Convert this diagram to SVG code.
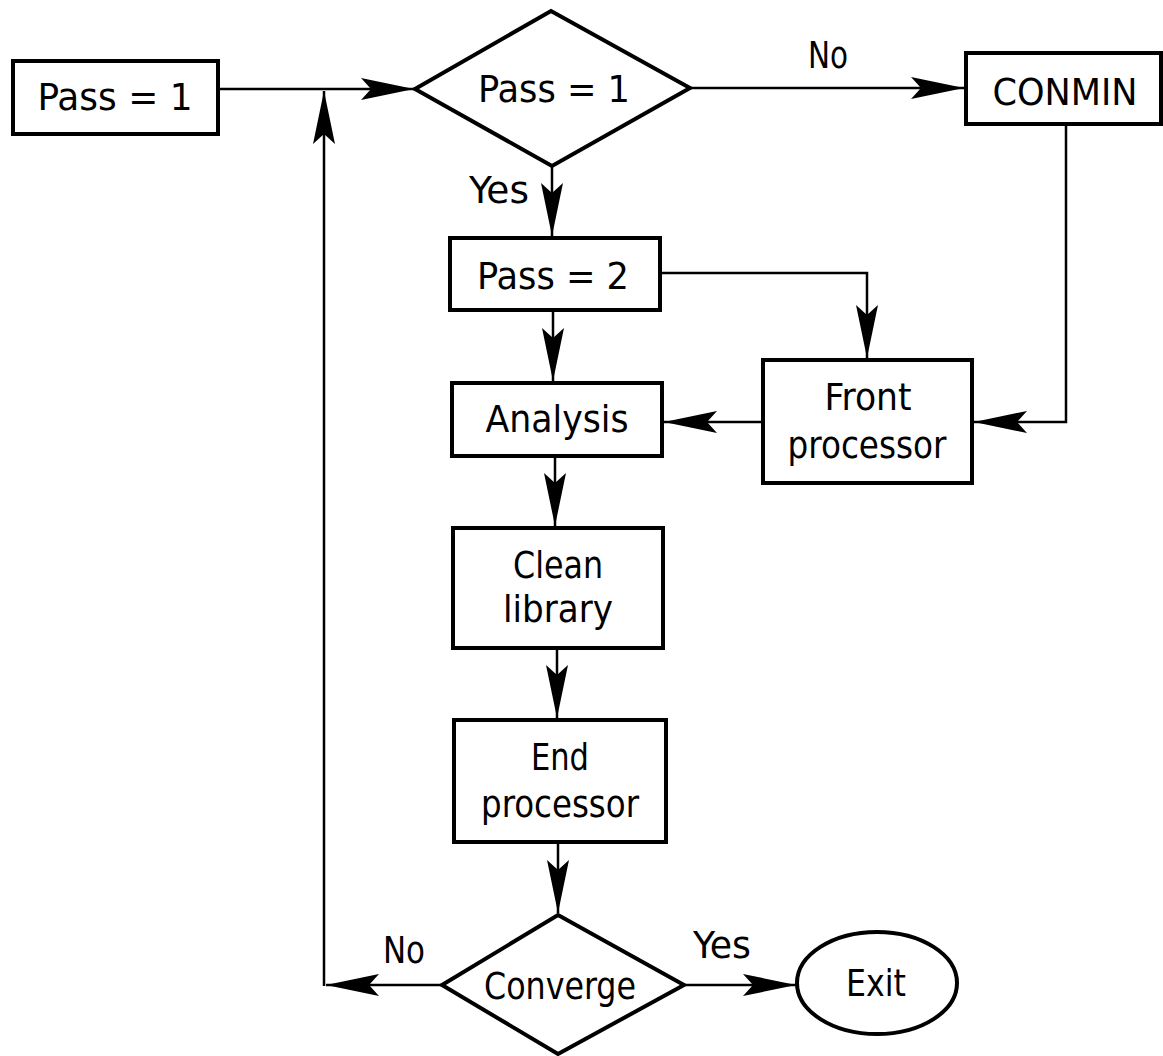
<svg xmlns="http://www.w3.org/2000/svg" width="1163" height="1056" viewBox="0 0 1163 1056">
<style>
.box{fill:#fff;stroke:#000;stroke-width:4}
.ln{fill:none;stroke:#000;stroke-width:2.5}
text{font-family:"DejaVu Sans Condensed","DejaVu Sans",sans-serif;font-stretch:condensed;font-size:38px;fill:#000;text-anchor:middle}
</style>
<defs>
<marker id="ah" markerUnits="userSpaceOnUse" markerWidth="60" markerHeight="30" viewBox="-56 -15 60 30" refX="0" refY="0" orient="auto">
<path d="M0,0 L-53,-11 L-43,0 L-53,11 Z" fill="#000"/>
</marker>
</defs>
<rect width="1163" height="1056" fill="#fff"/>
<g id="connectors">
<line class="ln" x1="218" y1="89" x2="414" y2="89" marker-end="url(#ah)"/>
<line class="ln" x1="690" y1="88" x2="964" y2="88" marker-end="url(#ah)"/>
<polyline class="ln" points="1066,124 1066,422 974,422" marker-end="url(#ah)"/>
<line class="ln" x1="552" y1="166" x2="552" y2="236" marker-end="url(#ah)"/>
<polyline class="ln" points="660,273 867,273 867,358" marker-end="url(#ah)"/>
<line class="ln" x1="553" y1="310" x2="553" y2="381" marker-end="url(#ah)"/>
<line class="ln" x1="763" y1="422" x2="664" y2="422" marker-end="url(#ah)"/>
<line class="ln" x1="555" y1="456" x2="555" y2="526" marker-end="url(#ah)"/>
<line class="ln" x1="557" y1="648" x2="557" y2="718" marker-end="url(#ah)"/>
<line class="ln" x1="558" y1="842" x2="558" y2="913" marker-end="url(#ah)"/>
<line class="ln" x1="442" y1="985" x2="326" y2="985" marker-end="url(#ah)"/>
<line class="ln" x1="324" y1="986" x2="324" y2="91" marker-end="url(#ah)"/>
<line class="ln" x1="684" y1="985" x2="796" y2="985" marker-end="url(#ah)"/>
</g>
<g id="labels">
<text x="828" y="68" textLength="40" lengthAdjust="spacingAndGlyphs">No</text>
<text x="499" y="203" textLength="60" lengthAdjust="spacingAndGlyphs">Yes</text>
<text x="404" y="963" textLength="42" lengthAdjust="spacingAndGlyphs">No</text>
<text x="722" y="958" textLength="58" lengthAdjust="spacingAndGlyphs">Yes</text>
</g>
<g id="start">
<rect class="box" x="13" y="61" width="205" height="73"/>
<text x="115" y="110" textLength="155" lengthAdjust="spacingAndGlyphs">Pass = 1</text>
</g>
<g id="decision1">
<polygon class="box" points="551,11 690,88 552,166 415,89"/>
<text x="554" y="102" textLength="152" lengthAdjust="spacingAndGlyphs">Pass = 1</text>
</g>
<g id="conmin">
<rect class="box" x="966" y="53" width="195" height="71"/>
<text x="1065" y="105" textLength="145" lengthAdjust="spacingAndGlyphs">CONMIN</text>
</g>
<g id="pass2">
<rect class="box" x="450" y="238" width="210" height="72"/>
<text x="553" y="289" textLength="152" lengthAdjust="spacingAndGlyphs">Pass = 2</text>
</g>
<g id="analysis">
<rect class="box" x="452" y="383" width="210" height="73"/>
<text x="557" y="432" textLength="143" lengthAdjust="spacingAndGlyphs">Analysis</text>
</g>
<g id="front">
<rect class="box" x="763" y="360" width="209" height="123"/>
<text x="868" y="410" textLength="87" lengthAdjust="spacingAndGlyphs">Front</text>
<text x="867" y="458" textLength="159" lengthAdjust="spacingAndGlyphs">processor</text>
</g>
<g id="clean">
<rect class="box" x="453" y="528" width="210" height="120"/>
<text x="558" y="578" textLength="90" lengthAdjust="spacingAndGlyphs">Clean</text>
<text x="558" y="622" textLength="110" lengthAdjust="spacingAndGlyphs">library</text>
</g>
<g id="end">
<rect class="box" x="454" y="720" width="212" height="122"/>
<text x="560" y="770" textLength="58" lengthAdjust="spacingAndGlyphs">End</text>
<text x="560" y="817" textLength="158" lengthAdjust="spacingAndGlyphs">processor</text>
</g>
<g id="converge">
<polygon class="box" points="558,915 684,985 558,1054 442,985"/>
<text x="560" y="999" textLength="152" lengthAdjust="spacingAndGlyphs">Converge</text>
</g>
<g id="exit">
<ellipse class="box" cx="877" cy="983" rx="80" ry="51"/>
<text x="876" y="996" textLength="60" lengthAdjust="spacingAndGlyphs">Exit</text>
</g>
</svg>
